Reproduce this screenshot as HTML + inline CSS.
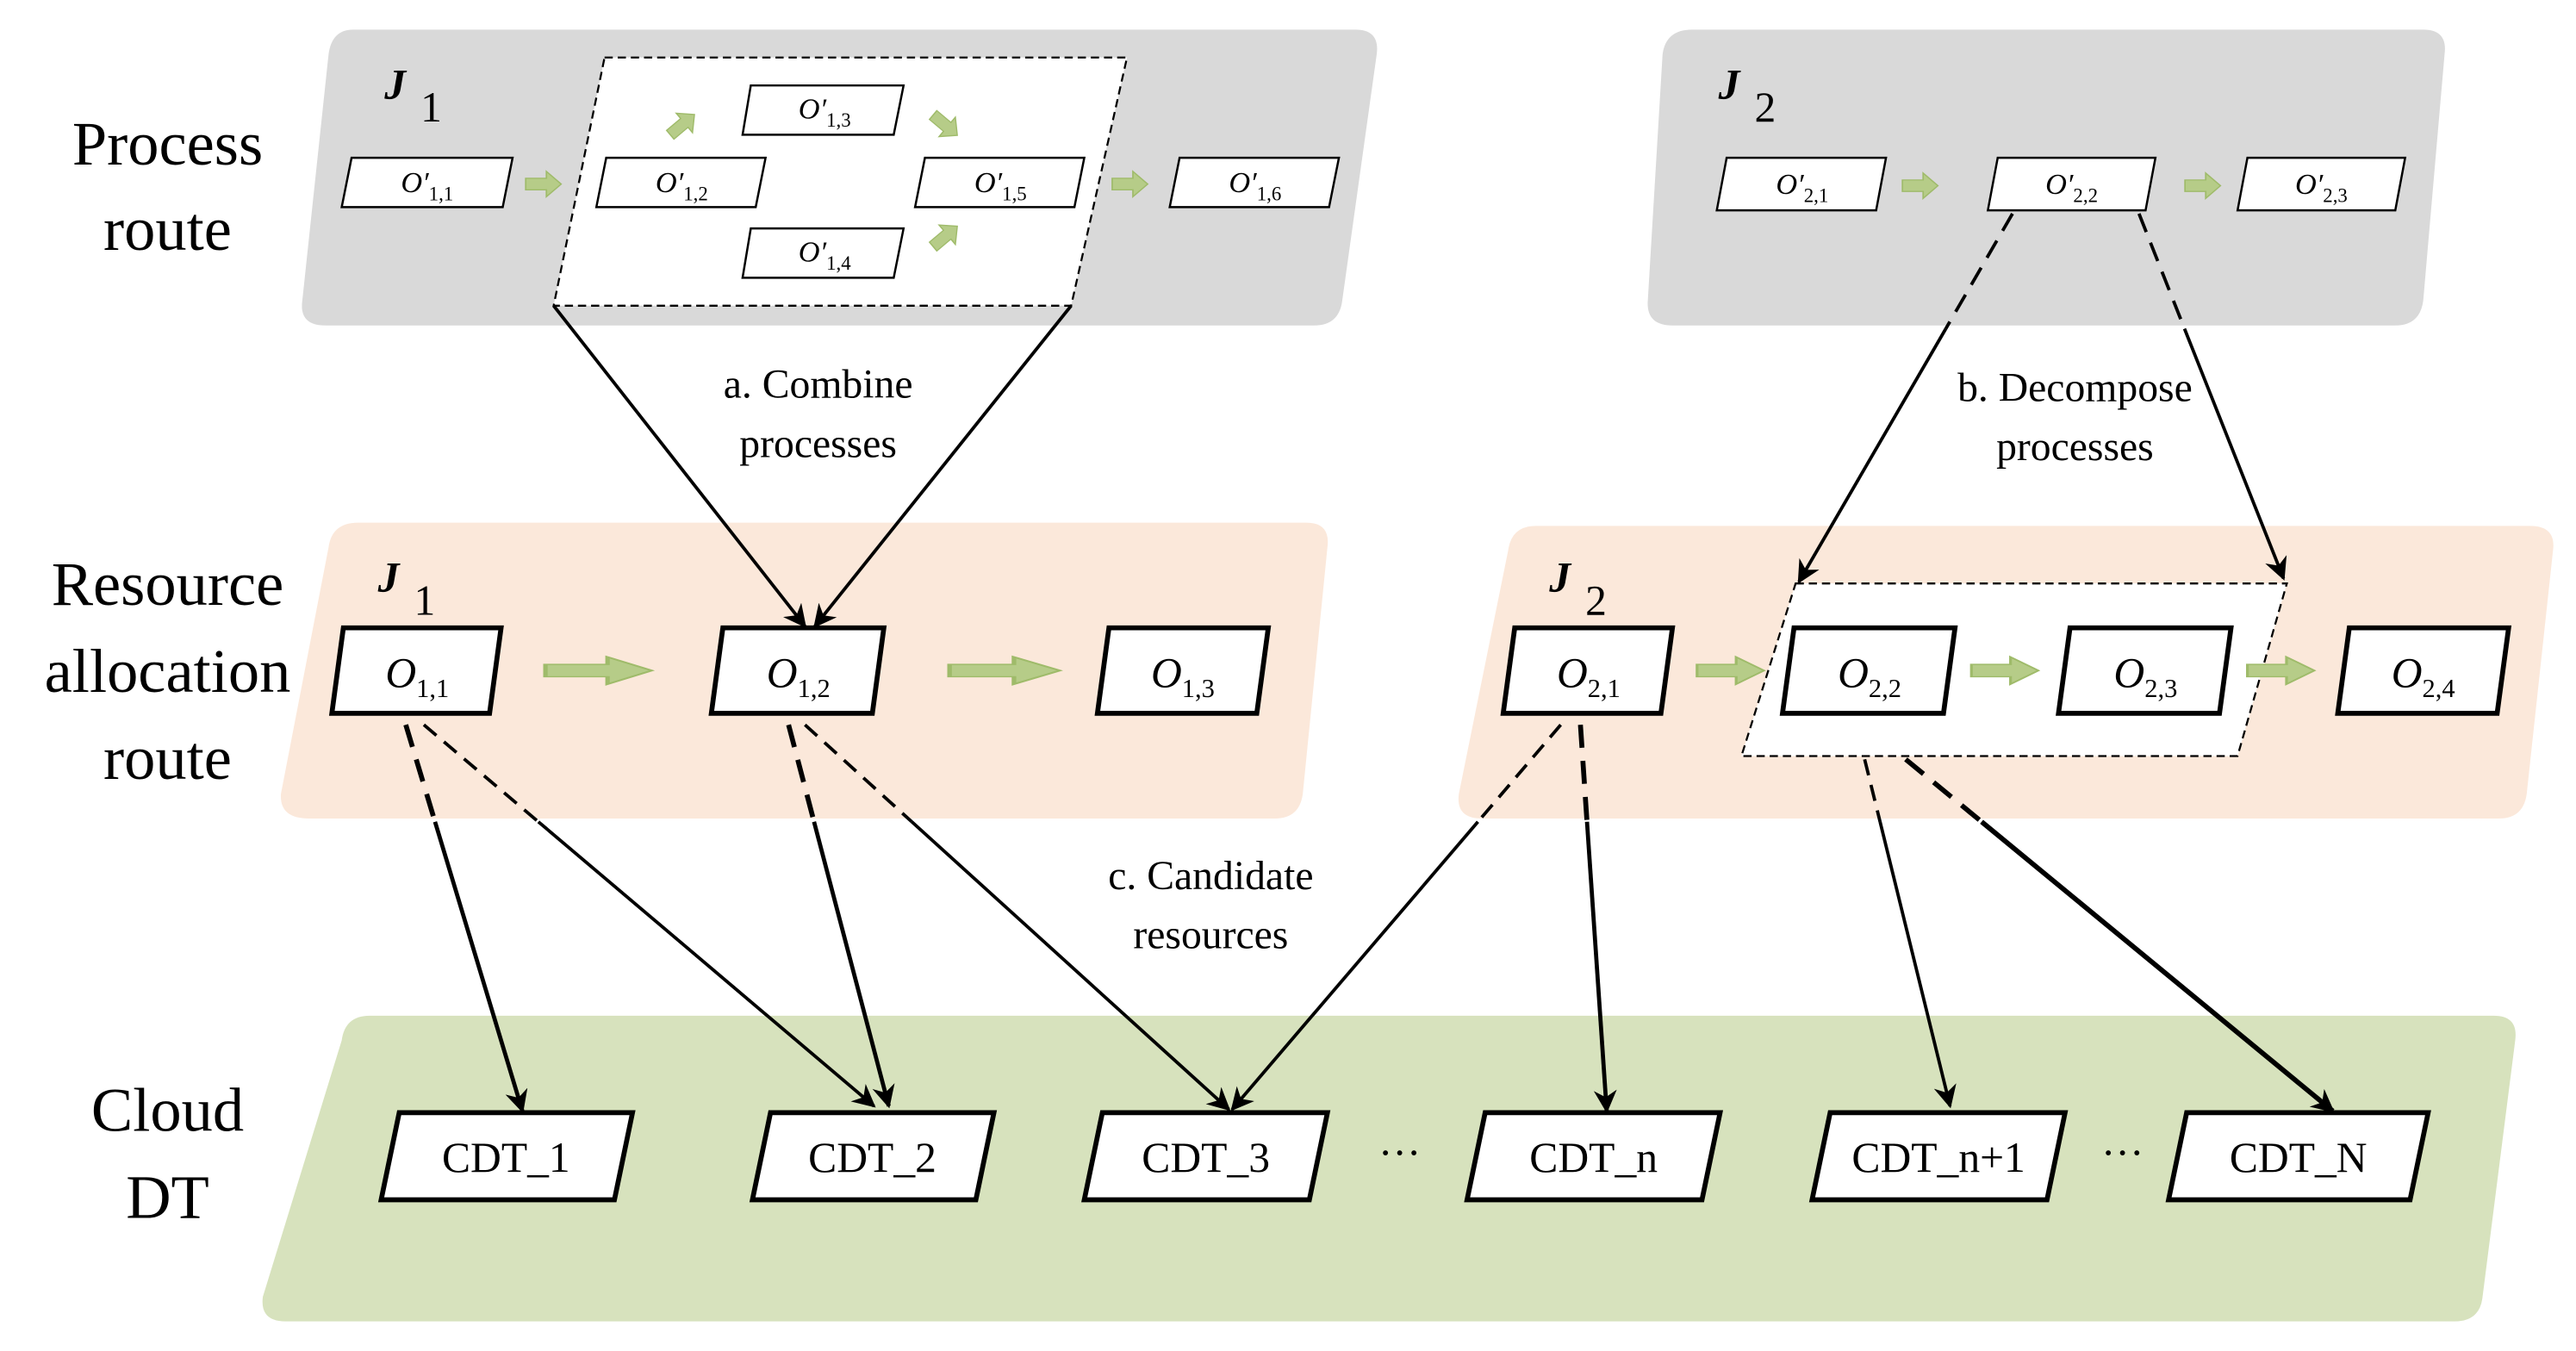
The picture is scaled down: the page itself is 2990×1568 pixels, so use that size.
<!DOCTYPE html>
<html><head><meta charset="utf-8"><style>
html,body{margin:0;padding:0;background:#fff;}
svg{display:block;}
text{font-family:"Liberation Serif",serif;fill:#000;}
</style></head><body>
<svg width="2990" height="1568" viewBox="0 0 1568 822" preserveAspectRatio="none" xmlns="http://www.w3.org/2000/svg">
<defs>
<marker id="a2" viewBox="0 0 10 10" refX="9" refY="5" markerWidth="16" markerHeight="14" orient="auto" markerUnits="userSpaceOnUse"><path d="M0,0 L10,5 L0,10 L3,5 z" fill="#000"/></marker>
<g id="ga"><path d="M0,-5 H14 V-11 L24,0 L14,11 V5 H0 z" fill="#b6cc88" stroke="#9fbb6a" stroke-width="1"/></g>
</defs>

<!-- panels -->
<path d="M215,18 H825 Q840,18 838,33 L817,183 Q815,198 800,198 H198 Q182,198 184,183 L200,33 Q202,18 215,18 z" fill="#d9d9d9"/>
<path d="M1030,18 H1475 Q1490,18 1488,33 L1475,183 Q1473,198 1458,198 H1018 Q1002,198 1003,183 L1012,33 Q1014,18 1030,18 z" fill="#d9d9d9"/>
<path d="M218,318 H795 Q810,318 808,333 L793,483 Q791,498 776,498 H188 Q170,498 171,483 L200,333 Q202,318 218,318 z" fill="#fbe8da"/>
<path d="M935,320 H1540 Q1556,320 1554,335 L1538,483 Q1536,498 1521,498 H902 Q886,498 888,483 L918,335 Q920,320 935,320 z" fill="#fbe8da"/>
<path d="M225,618 H1518 Q1533,618 1531,633 L1511,790 Q1509,804 1494,804 H174 Q158,804 160,789 L208,633 Q210,618 225,618 z" fill="#d7e2bd"/>

<!-- dashed boxes -->
<polygon points="368,35 686,35 652,186 337,186" fill="#fff" stroke="#000" stroke-width="1.2" stroke-dasharray="5,3"/>
<polygon points="1093,355 1392,355 1362,460 1060,460" fill="#fff" stroke="#000" stroke-width="1.2" stroke-dasharray="5,3"/>

<!-- left labels -->
<g font-size="38" text-anchor="middle">
<text x="102" y="100">Process</text><text x="102" y="152">route</text>
<text x="102" y="368">Resource</text><text x="102" y="421">allocation</text><text x="102" y="474">route</text>
<text x="102" y="688">Cloud</text><text x="102" y="741">DT</text>
</g>

<!-- J labels -->
<g font-size="26">
<text x="234" y="60" font-style="italic" font-weight="bold">J</text><text x="256" y="74">1</text>
<text x="1046" y="60" font-style="italic" font-weight="bold">J</text><text x="1068" y="74">2</text>
<text x="230" y="360" font-style="italic" font-weight="bold">J</text><text x="252" y="374">1</text>
<text x="943" y="360" font-style="italic" font-weight="bold">J</text><text x="965" y="374">2</text>
</g>

<!-- top small nodes -->
<g fill="#fff" stroke="#000" stroke-width="1.3">
<polygon points="214,96 312,96 306,126 208,126"/>
<polygon points="369,96 466,96 460,126 363,126"/>
<polygon points="457,52 550,52 544,82 452,82"/>
<polygon points="457,139 550,139 544,169 452,169"/>
<polygon points="563,96 660,96 654,126 557,126"/>
<polygon points="718,96 815,96 809,126 712,126"/>
<polygon points="1051,96 1148,96 1142,128 1045,128"/>
<polygon points="1216,96 1312,96 1306,128 1210,128"/>
<polygon points="1368,96 1464,96 1458,128 1362,128"/>
</g>
<g font-size="18" text-anchor="middle">
<text x="260" y="117"><tspan font-style="italic">O′</tspan><tspan font-size="12" dy="5">1,1</tspan></text>
<text x="415" y="117"><tspan font-style="italic">O′</tspan><tspan font-size="12" dy="5">1,2</tspan></text>
<text x="502" y="72"><tspan font-style="italic">O′</tspan><tspan font-size="12" dy="5">1,3</tspan></text>
<text x="502" y="159"><tspan font-style="italic">O′</tspan><tspan font-size="12" dy="5">1,4</tspan></text>
<text x="609" y="117"><tspan font-style="italic">O′</tspan><tspan font-size="12" dy="5">1,5</tspan></text>
<text x="764" y="117"><tspan font-style="italic">O′</tspan><tspan font-size="12" dy="5">1,6</tspan></text>
<text x="1097" y="118"><tspan font-style="italic">O′</tspan><tspan font-size="12" dy="5">2,1</tspan></text>
<text x="1261" y="118"><tspan font-style="italic">O′</tspan><tspan font-size="12" dy="5">2,2</tspan></text>
<text x="1413" y="118"><tspan font-style="italic">O′</tspan><tspan font-size="12" dy="5">2,3</tspan></text>
</g>
<!-- small green arrows -->
<use href="#ga" transform="translate(320,112) scale(0.9,0.7)"/>
<use href="#ga" transform="translate(677,112) scale(0.9,0.7)"/>
<use href="#ga" transform="translate(1158,113) scale(0.9,0.7)"/>
<use href="#ga" transform="translate(1330,113) scale(0.9,0.7)"/>
<use href="#ga" transform="translate(408,82) rotate(-40) scale(0.8,0.7)"/>
<use href="#ga" transform="translate(568,70) rotate(40) scale(0.8,0.7)"/>
<use href="#ga" transform="translate(568,150) rotate(-40) scale(0.8,0.7)"/>

<!-- mid nodes -->
<g fill="#fff" stroke="#000" stroke-width="3">
<polygon points="209,382 305,382 298,434 202,434"/>
<polygon points="440,382 538,382 531,434 433,434"/>
<polygon points="675,382 772,382 765,434 668,434"/>
<polygon points="922,382 1018,382 1011,434 915,434"/>
<polygon points="1092,382 1190,382 1183,434 1085,434"/>
<polygon points="1260,382 1358,382 1351,434 1253,434"/>
<polygon points="1430,382 1527,382 1520,434 1423,434"/>
</g>
<g font-size="26" text-anchor="middle">
<text x="254" y="418"><tspan font-style="italic">O</tspan><tspan font-size="16" dy="6">1,1</tspan></text>
<text x="486" y="418"><tspan font-style="italic">O</tspan><tspan font-size="16" dy="6">1,2</tspan></text>
<text x="720" y="418"><tspan font-style="italic">O</tspan><tspan font-size="16" dy="6">1,3</tspan></text>
<text x="967" y="418"><tspan font-style="italic">O</tspan><tspan font-size="16" dy="6">2,1</tspan></text>
<text x="1138" y="418"><tspan font-style="italic">O</tspan><tspan font-size="16" dy="6">2,2</tspan></text>
<text x="1306" y="418"><tspan font-style="italic">O</tspan><tspan font-size="16" dy="6">2,3</tspan></text>
<text x="1475" y="418"><tspan font-style="italic">O</tspan><tspan font-size="16" dy="6">2,4</tspan></text>
</g>
<use href="#ga" transform="translate(332,408) scale(2.7,0.75)"/>
<use href="#ga" transform="translate(578,408) scale(2.8,0.75)"/>
<use href="#ga" transform="translate(1033,408) scale(1.7,0.75)"/>
<use href="#ga" transform="translate(1200,408) scale(1.7,0.75)"/>
<use href="#ga" transform="translate(1368,408) scale(1.7,0.75)"/>

<!-- bottom nodes -->
<g fill="#fff" stroke="#000" stroke-width="3">
<polygon points="243,677 385,677 374,730 232,730"/>
<polygon points="469,677 605,677 594,730 458,730"/>
<polygon points="671,677 808,677 797,730 660,730"/>
<polygon points="904,677 1047,677 1036,730 893,730"/>
<polygon points="1114,677 1257,677 1246,730 1103,730"/>
<polygon points="1331,677 1478,677 1467,730 1320,730"/>
</g>
<g font-size="26" text-anchor="middle">
<text x="308" y="713">CDT_1</text>
<text x="531" y="713">CDT_2</text>
<text x="734" y="713">CDT_3</text>
<text x="970" y="713">CDT_n</text>
<text x="1180" y="713">CDT_n+1</text>
<text x="1399" y="713">CDT_N</text>
<text x="852" y="710">···</text>
<text x="1292" y="710">···</text>
</g>

<!-- combine lines -->
<g stroke="#000" stroke-width="2" fill="none">
<line x1="337" y1="186" x2="490" y2="381" marker-end="url(#a2)"/>
<line x1="652" y1="186" x2="496" y2="381" marker-end="url(#a2)"/>
<!-- decompose -->
<line x1="1225" y1="130" x2="1184.4" y2="200" stroke-dasharray="12,7"/>
<line x1="1184.4" y1="200" x2="1095" y2="354" marker-end="url(#a2)"/>
<line x1="1302" y1="130" x2="1329.7" y2="200" stroke-dasharray="12,7"/>
<line x1="1329.7" y1="200" x2="1390" y2="352" marker-end="url(#a2)"/>
</g>
<!-- candidate lines: dashed part then solid -->
<g stroke="#000" fill="none">
<line x1="247" y1="441" x2="264.8" y2="500" stroke-width="3" stroke-dasharray="14,8"/>
<line x1="264.8" y1="500" x2="318" y2="676" stroke-width="2.5" marker-end="url(#a2)"/>
<line x1="258" y1="441" x2="327.7" y2="500" stroke-width="2" stroke-dasharray="10,6"/>
<line x1="327.7" y1="500" x2="532" y2="673" stroke-width="2" marker-end="url(#a2)"/>
<line x1="480" y1="441" x2="495.5" y2="500" stroke-width="3" stroke-dasharray="14,8"/>
<line x1="495.5" y1="500" x2="541" y2="673" stroke-width="2.5" marker-end="url(#a2)"/>
<line x1="490" y1="441" x2="555" y2="500" stroke-width="2" stroke-dasharray="10,6"/>
<line x1="555" y1="500" x2="748" y2="675" stroke-width="2" marker-end="url(#a2)"/>
<line x1="950" y1="441" x2="899.6" y2="500" stroke-width="2" stroke-dasharray="10,6"/>
<line x1="899.6" y1="500" x2="750" y2="675" stroke-width="2" marker-end="url(#a2)"/>
<line x1="962" y1="441" x2="966" y2="500" stroke-width="3" stroke-dasharray="14,8"/>
<line x1="966" y1="500" x2="978" y2="676" stroke-width="2.5" marker-end="url(#a2)"/>
<line x1="1135" y1="462" x2="1144.4" y2="500" stroke-width="2" stroke-dasharray="10,6"/>
<line x1="1144.4" y1="500" x2="1187" y2="673" stroke-width="2" marker-end="url(#a2)"/>
<line x1="1160" y1="462" x2="1206.2" y2="500" stroke-width="3" stroke-dasharray="14,8"/>
<line x1="1206.2" y1="500" x2="1420" y2="676" stroke-width="3" marker-end="url(#a2)"/>
</g>

<!-- annotation labels -->
<g font-size="25" text-anchor="middle">
<text x="498" y="242">a. Combine</text><text x="498" y="278">processes</text>
<text x="1263" y="244">b. Decompose</text><text x="1263" y="280">processes</text>
<text x="737" y="541">c. Candidate</text><text x="737" y="577">resources</text>
</g>
</svg>
</body></html>
